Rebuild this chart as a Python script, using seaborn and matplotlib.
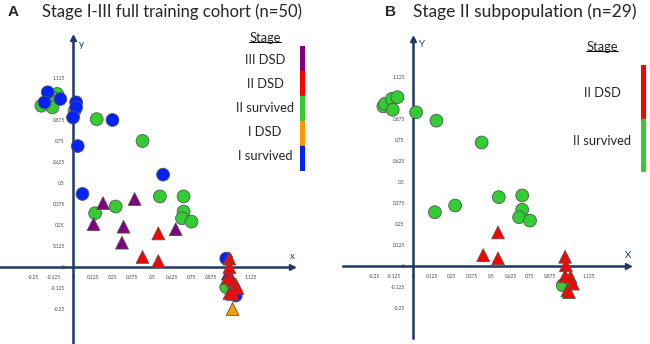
import matplotlib

matplotlib.use("Agg")
import matplotlib.pyplot as plt
import pandas as pd
import seaborn as sns
from matplotlib.lines import Line2D

# ---- data ---------------------------------------------------------------
STAGES_A = ["III DSD", "II DSD", "II survived", "I DSD", "I survived"]
STAGES_B = ["II DSD", "II survived"]
STAGE_COLORS = {
    "III DSD": "#800080",
    "II DSD": "#ff0000",
    "II survived": "#33cc33",
    "I DSD": "#ff9900",
    "I survived": "#0022ff",
}
STAGE_MARKERS = {
    "III DSD": "^",
    "II DSD": "^",
    "II survived": "o",
    "I DSD": "^",
    "I survived": "o",
}

# panel A: full training cohort
a_x = [
    # II survived
    -0.10, -0.13, -0.20, -0.13, 0.01, 0.15, 0.44, 0.14, 0.27, 0.55, 0.70, 0.70, 0.69, 0.75, 0.97,
    # I survived
    -0.16, -0.08, -0.18, 0.02, 0.02, 0.00, 0.25, 0.03, 0.57, 0.06, 0.97, 1.03,
    # III DSD
    0.19, 0.39, 0.13, 0.32, 0.31, 0.65, 0.98,
    # II DSD
    0.54, 0.44, 0.54, 0.99, 0.99, 0.98, 1.01, 1.03, 1.04, 0.99, 1.01,
    # I DSD
    1.01,
]
a_y = [
    1.03, 1.01, 0.96, 0.95, 0.93, 0.88, 0.75, 0.32, 0.36, 0.42, 0.42, 0.33, 0.29, 0.27, -0.12,
    1.04, 1.00, 0.98, 0.98, 0.95, 0.89, 0.875, 0.72, 0.55, 0.435, 0.05, -0.17,
    0.38, 0.405, 0.255, 0.24, 0.145, 0.225, -0.04,
    0.20, 0.06, 0.035, 0.05, 0.00, -0.065, -0.08, -0.105, -0.125, -0.155, -0.16,
    -0.25,
]
a_stage = (
    ["II survived"] * 15
    + ["I survived"] * 12
    + ["III DSD"] * 7
    + ["II DSD"] * 11
    + ["I DSD"] * 1
)

# panel B: stage II subpopulation
b_x = [
    -0.19, -0.18, -0.135, -0.10, -0.13, 0.02, 0.15, 0.44, 0.14, 0.27, 0.55, 0.70, 0.70, 0.68, 0.75, 0.96,
    0.545, 0.45, 0.545, 0.975, 0.98, 0.975, 1.01, 1.025, 0.99, 1.00,
]
b_y = [
    0.95, 0.965, 0.995, 1.005, 0.93, 0.915, 0.865, 0.735, 0.32, 0.36, 0.41, 0.42, 0.335, 0.29, 0.27, -0.115,
    0.20, 0.065, 0.045, 0.055, 0.005, -0.06, -0.065, -0.105, -0.145, -0.155,
]
b_stage = ["II survived"] * 16 + ["II DSD"] * 10

a_xticks = [-0.25, -0.125, 0, 0.125, 0.25, 0.375, 0.5, 0.625, 0.75, 0.875, 1.125]
a_yticks = [1.125, 0.875, 0.75, 0.625, 0.5, 0.375, 0.25, 0.125, 0, -0.125, -0.25]
b_xticks = [-0.25, -0.125, 0, 0.125, 0.25, 0.375, 0.5, 0.625, 0.75, 0.875, 1.125]
b_yticks = [1.125, 1, 0.875, 0.75, 0.625, 0.5, 0.375, 0.25, 0.125, 0, -0.125, -0.25]

AXIS_COLOR = "#1f3864"
W, H = 650, 344

sns.set_style("white")
plt.rcParams["font.family"] = ["Lato", "DejaVu Sans"]


def px_rect(x0, y0, x1, y1):
    """figure rect from pixel box (top-left origin)"""
    return [x0 / W, 1 - y1 / H, (x1 - x0) / W, (y1 - y0) / H]


def fmt(v):
    return f"{v:g}"


def draw_panel(fig, rect, xlim, ylim, df, xticks, yticks, xlab, ylab):
    ax = fig.add_axes(rect)
    sns.scatterplot(
        data=df,
        x="x",
        y="y",
        hue="stage",
        style="stage",
        palette=STAGE_COLORS,
        markers=STAGE_MARKERS,
        s=85,
        edgecolor="#555555",
        linewidth=0.6,
        legend=False,
        ax=ax,
        zorder=3,
    )
    ax.set_xlim(*xlim)
    ax.set_ylim(*ylim)
    for side in ["top", "right"]:
        ax.spines[side].set_visible(False)
    for side in ["left", "bottom"]:
        ax.spines[side].set_position("zero")
        ax.spines[side].set_color(AXIS_COLOR)
        ax.spines[side].set_linewidth(1.8)
        ax.spines[side].set_zorder(2)
    ax.set_xticks(xticks, [fmt(v) for v in xticks])
    ax.set_yticks(yticks, [fmt(v) for v in yticks])
    ax.tick_params(length=0, labelsize=3.4, labelcolor="#444444", pad=6)
    ax.set_xlabel("")
    ax.set_ylabel("")
    ax.plot(1, 0, ">", color=AXIS_COLOR, ms=5, transform=ax.get_yaxis_transform(), clip_on=False)
    ax.plot(0, 1, "^", color=AXIS_COLOR, ms=5, transform=ax.get_xaxis_transform(), clip_on=False)
    ax.text(1, 0.035, xlab, transform=ax.get_yaxis_transform(), ha="center", va="bottom",
            fontsize=7, color=AXIS_COLOR)
    ax.text(0.04, 0.995, ylab, transform=ax.get_xaxis_transform(), ha="left", va="top",
            fontsize=7, color=AXIS_COLOR)
    return ax


def draw_legend(fig, cx, title_y, labels, label_ys, bar_x, bar_y0, bar_y1):
    t = fig.text(cx / W, 1 - title_y / H, "Stage", ha="center", va="center", fontsize=9.3)
    for lab, ly in zip(labels, label_ys):
        fig.text(cx / W, 1 - ly / H, lab, ha="center", va="center", fontsize=9.3)
    # colour strip
    cax = fig.add_axes(px_rect(bar_x, bar_y0, bar_x + 5, bar_y1))
    n = len(labels)
    for i, lab in enumerate(labels):
        cax.axhspan(n - i - 1, n - i, color=STAGE_COLORS[lab])
    cax.set_ylim(0, n)
    cax.set_xlim(0, 1)
    cax.axis("off")
    return t


fig = plt.figure(figsize=(W / 100, H / 100), dpi=100)

df_a = pd.DataFrame({"x": a_x, "y": a_y, "stage": a_stage})
df_b = pd.DataFrame({"x": b_x, "y": b_y, "stage": b_stage})

# panel A: origin at px (73, 267), 158 px per unit in x, 168 in y
draw_panel(
    fig, px_rect(0, 38, 292, 344),
    ((0 - 73) / 158, (292 - 73) / 158), ((267 - 344) / 168, (267 - 38) / 168),
    df_a, a_xticks, a_yticks, "x", "y",
)
# panel B: origin at px (413, 266)
draw_panel(
    fig, px_rect(343, 39, 628, 338),
    ((343 - 413) / 156, (628 - 413) / 156), ((266 - 338) / 168, (266 - 39) / 168),
    df_b, b_xticks, b_yticks, "X", "Y",
)

fig.text(8 / W, 1 - 12 / H, "A", ha="left", va="center", fontsize=11, fontweight="bold",
         family="Liberation Sans")
fig.text(42 / W, 1 - 12 / H, "Stage I-III full training cohort (n=50)", ha="left",
         va="center", fontsize=12)
fig.text(385 / W, 1 - 12 / H, "B", ha="left", va="center", fontsize=11, fontweight="bold",
         family="Liberation Sans")
fig.text(413 / W, 1 - 12 / H, "Stage II subpopulation (n=29)", ha="left", va="center",
         fontsize=12.5)

ta = draw_legend(fig, 265, 38, STAGES_A, [60, 84, 108, 132, 156], 300, 46, 171)
tb = draw_legend(fig, 602, 47, STAGES_B, [93, 141], 641, 65, 172)

# underline the legend titles
fig.canvas.draw()
inv = fig.transFigure.inverted()
for t in [ta, tb]:
    bb = t.get_window_extent().transformed(inv)
    fig.add_artist(Line2D([bb.x0, bb.x1], [bb.y0 + 0.006, bb.y0 + 0.006], color="black",
                          lw=0.7, transform=fig.transFigure))

fig.savefig("out.png", dpi=100)
